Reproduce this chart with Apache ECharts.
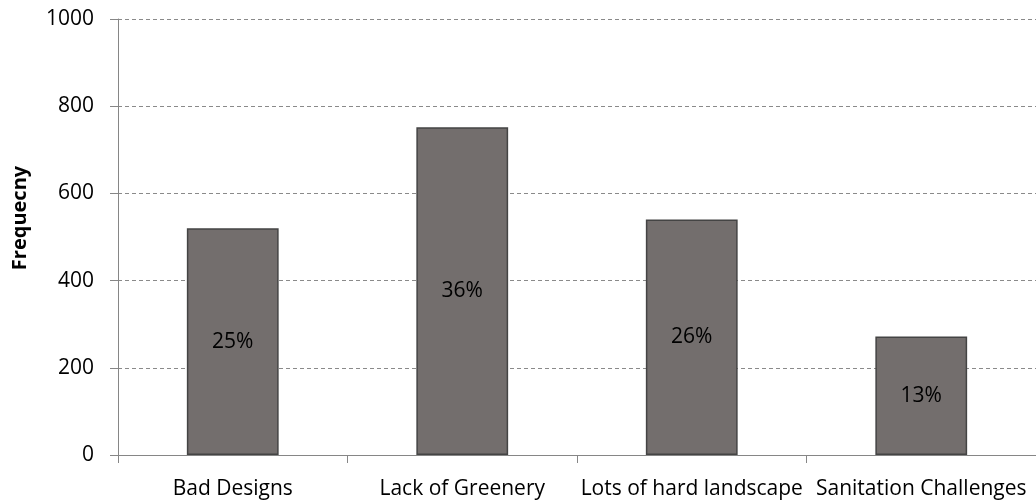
<!DOCTYPE html>
<html>
<head>
<meta charset="utf-8">
<script src="https://cdn.jsdelivr.net/npm/echarts@6/dist/echarts.min.js"></script>
<style>
  html, body { margin: 0; padding: 0; background: #fff; overflow: hidden; }
  #chart { width: 1036px; height: 504px; }
</style>
</head>
<body>
<div id="chart"></div>
<script>
const categories = ['Bad Designs', 'Lack of Greenery', 'Lots of hard landscape', 'Sanitation Challenges'];
const frequency = [520, 752, 540, 272];
const shares = ['25%', '36%', '26%', '13%'];
const yTicks = [0, 200, 400, 600, 800, 1000];

const font = "'Open Sans', Lato, sans-serif";
const chart = echarts.init(document.getElementById('chart'));

const option = {
  backgroundColor: '#ffffff',
  animation: false,
  grid: {
    left: 118,
    right: -6,
    top: 19,
    bottom: 49,
    containLabel: false,
  },
  xAxis: {
    type: 'category',
    data: categories,
    axisLine: { lineStyle: { color: '#868686', width: 1 } },
    axisTick: { show: true, length: 8, lineStyle: { color: '#868686' } },
    axisLabel: { color: '#000', fontSize: 21, fontFamily: font, margin: 24, interval: 0 },
  },
  yAxis: {
    type: 'value',
    min: yTicks[0],
    max: yTicks[yTicks.length - 1],
    interval: 200,
    name: 'Frequecny',
    nameLocation: 'middle',
    nameGap: 88,
    nameTextStyle: { color: '#000', fontSize: 20, fontWeight: 'bold', fontFamily: font, padding: [0, 0, 0, 38] },
    axisLine: { show: true, lineStyle: { color: '#868686', width: 1 } },
    axisTick: { show: true, length: 8, lineStyle: { color: '#868686' } },
    axisLabel: { color: '#000', fontSize: 21, fontFamily: font, margin: 24, formatter: (v) => String(v) },
    splitLine: { show: true, lineStyle: { color: '#8a8a8a', type: [4, 3], width: 1 } },
  },
  series: [
    {
      type: 'bar',
      data: frequency,
      barWidth: '40%',
      itemStyle: {
        color: '#736e6d',
        borderColor: '#444444',
        borderWidth: 1.5,
      },
      label: {
        show: true,
        position: 'inside',
        color: '#000',
        fontSize: 21,
        fontFamily: font,
        formatter: (p) => shares[p.dataIndex],
      },
    },
  ],
};

chart.setOption(option);
</script>
</body>
</html>
